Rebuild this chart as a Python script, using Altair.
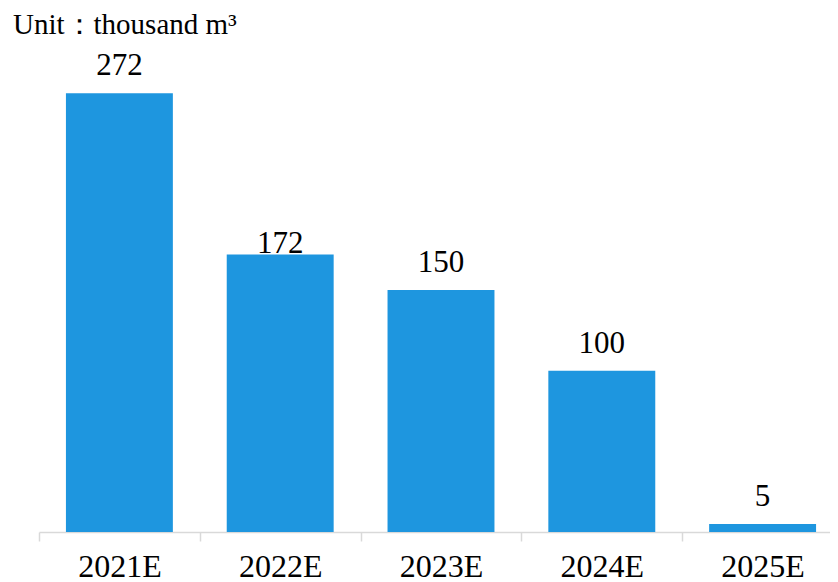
import altair as alt
import pandas as pd

categories = ["2021E", "2022E", "2023E", "2024E", "2025E"]
values = [272, 172, 150, 100, 5]
title_text = "Unit：thousand m³"

df = pd.DataFrame({"cat": categories, "val": values})

FONT = "Liberation Serif"
BAR = "#1E96DF"

x = alt.X(
    "cat:N",
    sort=categories,
    scale=alt.Scale(paddingInner=0, paddingOuter=0, range=[0, 804]),
    axis=alt.Axis(
        title=None,
        labelAngle=0,
        labelFont=FONT,
        labelFontSize=32,
        labelColor="#000000",
        labelPadding=10,
        domainColor="#d9d9d9",
        domainWidth=1.5,
        ticks=True,
        tickColor="#d9d9d9",
        tickWidth=1.5,
        tickSize=9,
        tickBand="extent",
        grid=False,
    ),
)
y = alt.Y("val:Q", scale=alt.Scale(domain=[0, 300], nice=False), axis=None)

base = alt.Chart(df)
bars = base.mark_bar(color=BAR, width=alt.RelativeBandSize(0.665)).encode(x=x, y=y)
labels = base.transform_filter(alt.datum.cat != "2022E").mark_text(
    font=FONT, fontSize=31, color="#000000", baseline="alphabetic", dy=-18
).encode(x=x, y=y, text="val:Q")
labels2 = base.transform_filter(alt.datum.cat == "2022E").mark_text(
    font=FONT, fontSize=31, color="#000000", baseline="alphabetic", dy=-2
).encode(x=x, y=y, text="val:Q")

chart = (
    alt.layer(bars, labels, labels2)
    .properties(
        width=791,
        height=484,
        autosize=alt.AutoSizeParams(type="none"),
        padding={"left": 31, "top": 40, "right": 0, "bottom": 51},
        title=alt.TitleParams(
            title_text,
            anchor="start",
            frame="group",
            font=FONT,
            fontSize=29,
            fontWeight="normal",
            color="#000000",
            dx=-26,
            offset=8,
        ),
    )
    .configure_view(stroke=None)
)

chart.save("out.html", embed_options={"renderer": "svg", "actions": False})
